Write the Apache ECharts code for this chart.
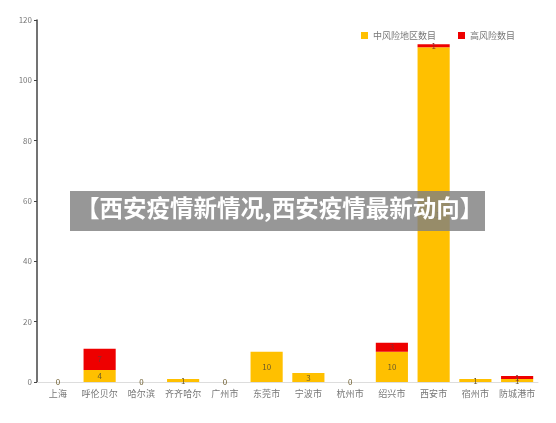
<!DOCTYPE html>
<html>
<head>
<meta charset="utf-8">
<script src="https://cdn.jsdelivr.net/npm/echarts@6/dist/echarts.min.js"></script>
<style>
  html, body { margin: 0; padding: 0; background: #fff; }
  #main { width: 556px; height: 423px; }
</style>
</head>
<body>
<div id="main"></div>
<script>
// 城市
const cities = ['上海', '呼伦贝尔', '哈尔滨', '齐齐哈尔', '广州市', '东莞市', '宁波市', '杭州市', '绍兴市', '西安市', '宿州市', '防城港市'];
// 中风险地区数目
const midRisk = [0, 4, 0, 1, 0, 10, 3, 0, 10, 111, 1, 1];
// 高风险数目
const highRisk = [0, 7, 0, 0, 0, 0, 0, 0, 3, 1, 0, 1];
const yTicks = { min: 0, max: 120, interval: 20 };

const chart = echarts.init(document.getElementById('main'));
chart.setOption({
  animation: false,
  textStyle: { fontFamily: 'Noto Sans CJK SC' },
  legend: {
    top: 26,
    right: 36,
    itemWidth: 7,
    itemHeight: 7,
    itemGap: 22,
    icon: 'rect',
    textStyle: { color: '#777', fontSize: 9 },
    data: ['中风险地区数目', '高风险数目']
  },
  grid: { left: 37, right: 18, top: 20, bottom: 41 },
  xAxis: {
    type: 'category',
    data: cities,
    axisLine: { lineStyle: { color: '#ddd' } },
    axisTick: { show: false },
    axisLabel: { color: '#777', fontSize: 9, margin: 7, interval: 0 }
  },
  yAxis: {
    type: 'value',
    min: yTicks.min,
    max: yTicks.max,
    interval: yTicks.interval,
    splitLine: { show: false },
    axisLine: { show: true, lineStyle: { color: '#444', width: 1.5 } },
    axisTick: { show: true, length: 3, lineStyle: { color: '#444' } },
    axisLabel: { color: '#777', fontSize: 8, margin: 5 }
  },
  series: [
    {
      name: '中风险地区数目',
      type: 'bar',
      stack: 'total',
      barWidth: '77%',
      itemStyle: { color: '#FFC000' },
      label: { show: true, position: 'inside', color: '#6b5a2a', fontSize: 8 },
      labelLayout: { hideOverlap: false },
      data: midRisk
    },
    {
      name: '高风险数目',
      type: 'bar',
      stack: 'total',
      itemStyle: { color: '#EE0000' },
      label: {
        show: true, position: 'inside', color: '#8a2a2a', fontSize: 8,
        formatter: p => (p.value ? p.value : '')
      },
      data: highRisk
    }
  ],
  graphic: [
    {
      type: 'rect',
      left: 70, top: 191,
      shape: { width: 415, height: 40 },
      style: { fill: 'rgba(128,128,128,0.82)' },
      z: 100
    },
    {
      type: 'text',
      left: 76, top: 196,
      style: {
        text: '【西安疫情新情况,西安疫情最新动向】',
        fill: '#fff',
        font: 'bold 23.5px "Noto Sans CJK SC"'
      },
      z: 101
    }
  ]
});
</script>
</body>
</html>
